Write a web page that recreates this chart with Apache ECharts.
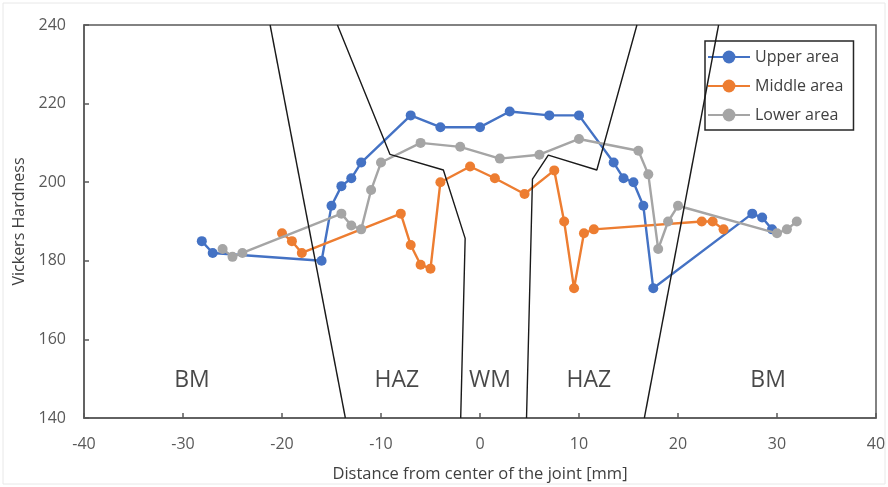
<!DOCTYPE html>
<html>
<head>
<meta charset="utf-8">
<script src="https://cdn.jsdelivr.net/npm/echarts@6/dist/echarts.min.js"></script>
<style>html,body{margin:0;padding:0;background:#fff}#c{width:888px;height:487px}</style>
</head>
<body>
<div id="c"></div>
<script>
// Hardness measurements [distance mm, HV]
const upperArea = [[-28.1,185],[-27,182],[-16,180],[-15,194],[-14,199],[-13,201],[-12,205],[-7,217],[-4,214],[0,214],[3,218],[7,217],[10,217],[13.5,205],[14.5,201],[15.5,200],[16.5,194],[17.5,173],[27.5,192],[28.5,191],[29.5,188]];
const middleArea = [[-20,187],[-19,185],[-18,182],[-8,192],[-7,184],[-6,179],[-5,178],[-4,200],[-1,204],[1.5,201],[4.5,197],[7.5,203],[8.5,190],[9.5,173],[10.5,187],[11.5,188],[22.4,190],[23.5,190],[24.6,188]];
const lowerArea = [[-26,183],[-25,181],[-24,182],[-14,192],[-13,189],[-12,188],[-11,198],[-10,205],[-6,210],[-2,209],[2,206],[6,207],[10,211],[16,208],[17,202],[18,183],[19,190],[20,194],[30,187],[31,188],[32,190]];
const seriesNames = ['Upper area','Middle area','Lower area'];
// Zone boundary lines [distance mm, HV-axis value]
const boundaryLeftOuter = [[-21.2,240],[-13.6,140]];
const boundaryLeftInner = [[-14.4,240],[-9.1,207.1],[-3.7,203.1],[-1.5,185.7],[-1.95,140]];
const boundaryRightInner = [[15.85,240],[11.8,203.1],[6.9,206.9],[5.3,200.8],[4.7,140]];
const boundaryRightOuter = [[24.1,240],[16.6,140]];
// Zone labels
const zoneNames = ['BM','HAZ','WM','HAZ','BM'];
const zoneX = [-29.1,-8.4,1.0,11.0,29.1];
const zoneY = 149.6;
const xTicks = {min:-40,max:40,interval:10};
const yTicks = {min:140,max:240,interval:20};

const colors = ['#4472C4','#ED7D31','#A5A5A5'];
const font = 'Open Sans';
const chart = echarts.init(document.getElementById('c'));
const dataSets = [upperArea, middleArea, lowerArea];
const boundaries = [boundaryLeftOuter, boundaryLeftInner, boundaryRightInner, boundaryRightOuter];
chart.setOption({
  animation:false,
  textStyle:{fontFamily:font},
  graphic:[{type:'rect',shape:{x:3,y:3,width:882,height:481},style:{fill:'none',stroke:'#e8e8e8',lineWidth:1},z:-1}],
  grid:{left:84,right:12,top:25,bottom:69,show:true,borderColor:'#595959',borderWidth:1.5,outerBoundsMode:'none'},
  legend:{
    data:seriesNames, orient:'vertical', left:705, top:41,
    borderColor:'#262626', borderWidth:1.5, borderRadius:0,
    padding:[8,10,7,2], itemGap:13, itemWidth:42, itemHeight:16,
    textStyle:{fontSize:16,color:'#404040',fontFamily:font}
  },
  xAxis:{
    type:'value', min:xTicks.min, max:xTicks.max, interval:xTicks.interval,
    name:'Distance from center of the joint [mm]', nameLocation:'middle', nameGap:48,
    nameTextStyle:{fontSize:16.5,color:'#404040',fontFamily:font},
    axisLine:{show:true,onZero:false,lineStyle:{color:'#595959',width:1.5}},
    axisTick:{show:true,inside:true,length:5,lineStyle:{color:'#595959',width:1.5}},
    axisLabel:{fontSize:16,color:'#595959',margin:18,fontFamily:font},
    splitLine:{show:false}
  },
  yAxis:{
    type:'value', min:yTicks.min, max:yTicks.max, interval:yTicks.interval,
    name:'Vickers Hardness', nameLocation:'middle', nameGap:57,
    nameTextStyle:{fontSize:16,color:'#404040',fontFamily:font},
    axisLine:{show:true,onZero:false,lineStyle:{color:'#595959',width:1.5}},
    axisTick:{show:true,inside:true,length:5,lineStyle:{color:'#595959',width:1.5}},
    axisLabel:{fontSize:16,color:'#595959',margin:18,fontFamily:font},
    splitLine:{show:false}
  },
  series:[
    ...dataSets.map((d,i)=>({
      name:seriesNames[i], type:'line', data:d, color:colors[i],
      symbol:'circle', symbolSize:10, showSymbol:true,
      lineStyle:{width:2.4,color:colors[i]}, itemStyle:{color:colors[i]}, z:2+i
    })),
    ...boundaries.map((b,i)=>({
      name:'boundary'+i, type:'line', data:b, symbol:'none', silent:true,
      lineStyle:{color:'#1a1a1a',width:1.4}, z:10
    })),
    {
      name:'zones', type:'scatter', symbolSize:0, silent:true, z:11,
      data:zoneNames.map((n,i)=>({name:n,value:[zoneX[i],zoneY]})),
      label:{show:true,position:'inside',formatter:'{b}',fontSize:23,color:'#1a1a1a',fontFamily:font}
    }
  ]
});
</script>
</body>
</html>
